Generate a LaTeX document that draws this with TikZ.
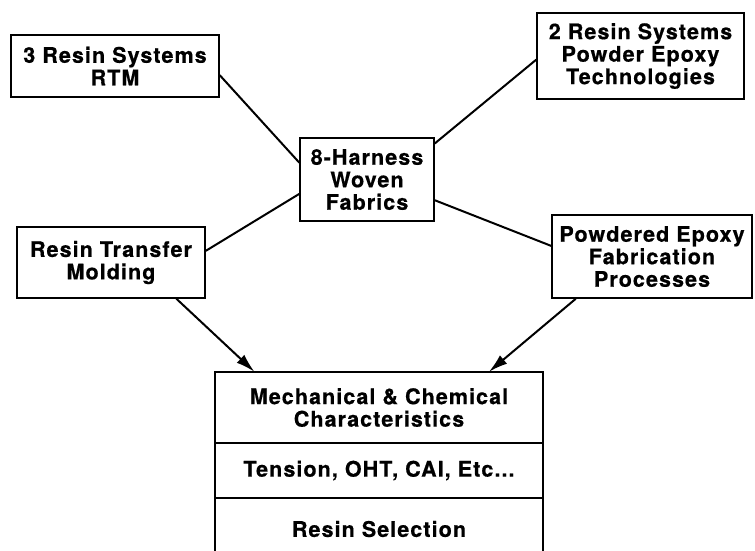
\documentclass[tikz,border=0pt]{standalone}
\usepackage{fontspec}
\setmainfont{TeX Gyre Heros}[LetterSpace=5.0,BoldFeatures={FakeBold=0.6}]
\usetikzlibrary{arrows.meta}
\begin{document}
\begin{tikzpicture}[x=1pt,y=-1pt,
  box/.style={draw=black,line width=1.5pt,rectangle,inner sep=0pt,align=center,
    font=\fontsize{21.5}{22.5}\selectfont\bfseries},
  cell/.style={rectangle,inner sep=0pt,align=center,
    font=\fontsize{21.5}{22.5}\selectfont\bfseries},
  link/.style={line width=2pt},
  arr/.style={line width=2pt,-{Latex[length=19pt,width=11pt]}}]
\useasboundingbox (0,0) rectangle (755,550);
\node[box,minimum width=208pt,minimum height=62pt] (rtm3) at (115,66) {3 Resin Systems\\RTM};
\node[box,minimum width=207pt,minimum height=86pt] (pe2) at (640.5,56) {2 Resin Systems\\Powder Epoxy\\Technologies};
\node[box,minimum width=134pt,minimum height=83pt] (hw) at (367,179.5) {8-Harness\\Woven\\Fabrics};
\node[box,minimum width=188pt,minimum height=71pt] (rtmold) at (111,262.5) {Resin Transfer\\Molding};
\node[box,minimum width=200pt,minimum height=83pt] (pfp) at (652,256.5) {Powdered Epoxy\\Fabrication\\Processes};
\node[cell,minimum width=328pt,minimum height=71pt] (mech) at (379,407.5) {Mechanical \& Chemical\\Characteristics};
\node[cell,minimum width=328pt,minimum height=55pt] (tens) at (379,470.5) {Tension, OHT, CAI, Etc...};
\node[cell,minimum width=328pt,minimum height=62pt] (sel) at (379,529) {Resin Selection};
\draw[line width=1.5pt] (sel.south west) -- (mech.north west) -- (mech.north east) -- (sel.south east);
\draw[line width=1.5pt] (mech.south west) -- (mech.south east);
\draw[line width=1.5pt] (tens.south west) -- (tens.south east);
\draw[link] (rtm3.-5) -- (hw.166);
\draw[link] (hw.192) -- (rtmold.7.6);
\draw[link] (hw.28) -- (pe2.182);
\draw[link] (hw.-17) -- (pfp.174.6);
\draw[arr] (rtmold.-29.5) -- (mech.164.3);
\draw[arr] (pfp.209.5) -- (mech.18);
\end{tikzpicture}
\end{document}
